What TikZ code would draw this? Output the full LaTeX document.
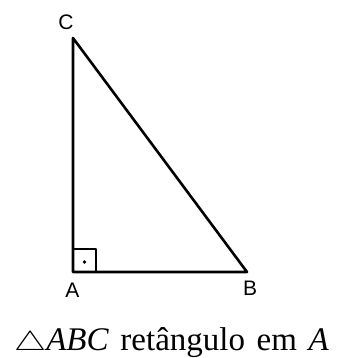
\documentclass[tikz,border=0pt]{standalone}
\usepackage{fontspec}
\setmainfont{Liberation Serif}
\setsansfont{Liberation Sans}
\newfontfamily\legendafont[WordSpace=1.4]{Liberation Serif}

\begin{document}
\begin{tikzpicture}[
    x=1pt, y=1pt,
    line join=round,
    side/.style={
        line width=2.6pt
    },
    vertex/.style={
        inner sep=0, font=\sffamily\fontsize{21}{21}\selectfont
    },
    caption/.style={
        inner sep=0, anchor=base,
        font=\legendafont\fontsize{33}{33}\selectfont
    }
]
    \useasboundingbox (0,0) rectangle (340,358);

    \coordinate (A) at (73,86);
    \coordinate (B) at (247,86);
    \coordinate (C) at (73,320);

    \draw [side] (A) -- (B) -- (C) -- cycle;

    % angulo reto em A
    \draw [line width=1.8pt] ([xshift=23pt]A) |- ([yshift=23pt]A);
    \fill ([shift={(11.5,10)}]A) circle (1.8);

    \node [vertex] (labelC) at (66,335.5) {C};
    \node [vertex] (labelA) at (72.5,67.5) {A};
    \node [vertex] (labelB) at (250,69.5) {B};

    \node [caption] (legenda) at (171.5,8)
        {\scalebox{1.45}[1.1]{$\triangle$}\textit{ABC} retângulo em \textit{A}};

\end{tikzpicture}
\end{document}
